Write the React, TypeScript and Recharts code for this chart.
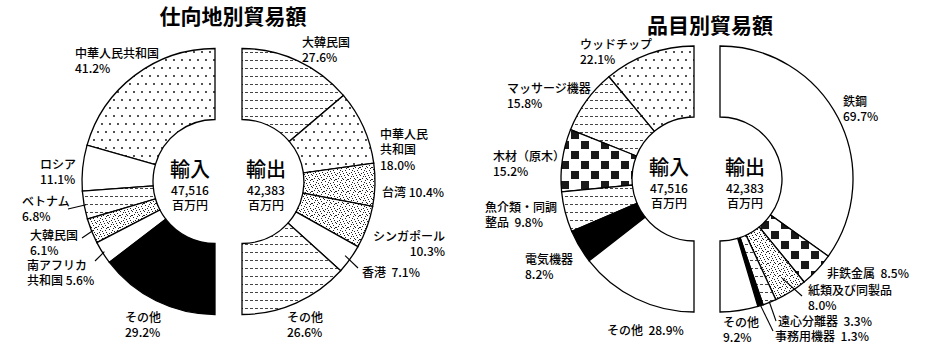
import React from "react";
import { PieChart, Pie, Cell } from "recharts";

// ---- data ----
const destImportNames = ["中華人民共和国", "ロシア", "ベトナム", "大韓民国", "南アフリカ共和国", "その他"];
const destImportValues = [41.2, 11.1, 6.8, 6.1, 5.6, 29.2];
const destExportNames = ["大韓民国", "中華人民共和国", "台湾", "シンガポール", "香港", "その他"];
const destExportValues = [27.6, 18.0, 10.4, 10.3, 7.1, 26.6];
const itemImportNames = ["ウッドチップ", "マッサージ機器", "木材（原木）", "魚介類・同調整品", "電気機器", "その他"];
const itemImportValues = [22.1, 15.8, 15.2, 9.8, 8.2, 28.9];
const itemExportNames = ["鉄鋼", "非鉄金属", "紙類及び同製品", "遠心分離器", "事務用機器", "その他"];
const itemExportValues = [69.7, 8.5, 8.0, 3.3, 1.3, 9.2];
const totals = { import: "47,516", export: "42,383", unit: "百万円" };
const titles = ["仕向地別貿易額", "品目別貿易額"];

const toRows = (names: string[], values: number[]) => names.map((name, i) => ({ name, value: values[i] }));

// ---- styles ----
const destImportFills = ["url(#dots)", "#fff", "url(#dash)", "url(#stipple)", "#fff", "#000"];
const destExportFills = ["url(#dash)", "url(#dots)", "url(#stipple)", "url(#stipple)", "#fff", "url(#dash)"];
const itemImportFills = ["url(#dots)", "url(#dash)", "url(#checker)", "url(#dash)", "#000", "#fff"];
const itemExportFills = ["#fff", "url(#checker)", "url(#stipple)", "url(#dash)", "#000", "#fff"];

type LabelLayout = { x: number; y: number; anchor?: string; lines: string[]; lx?: number; ly?: number; inset?: number };

const destImportLabels: LabelLayout[] = [
  { x: 75, y: 52, lines: ["中華人民共和国", "{v}"] },
  { x: 40, y: 163, lines: ["ロシア", "{v}"] },
  { x: 22, y: 200, lines: ["ベトナム", "{v}"], lx: 68, ly: 209, inset: 2 },
  { x: 30, y: 234, lines: ["大韓民国", "{v}"], lx: 82, ly: 238, inset: 2 },
  { x: 27, y: 264, lines: ["南アフリカ", "共和国 {v}"], lx: 95, ly: 261, inset: 2 },
  { x: 125, y: 316, lines: ["その他", "{v}"] },
];
const destExportLabels: LabelLayout[] = [
  { x: 302, y: 41, lines: ["大韓民国", "{v}"] },
  { x: 380, y: 133, lines: ["中華人民", "共和国", "{v}"] },
  { x: 382, y: 191, lines: ["台湾 {v}"] },
  { x: 445, y: 235, anchor: "end", lines: ["シンガポール", "{v}"] },
  { x: 362, y: 271, lines: ["香港  {v}"], lx: 358, ly: 268, inset: 6 },
  { x: 287, y: 316, lines: ["その他", "{v}"] },
];
const itemImportLabels: LabelLayout[] = [
  { x: 580, y: 43, lines: ["ウッドチップ", "{v}"] },
  { x: 507, y: 87, lines: ["マッサージ機器", "{v}"] },
  { x: 493, y: 155, lines: ["木材（原木）", "{v}"] },
  { x: 485, y: 206, lines: ["魚介類・同調", "整品  {v}"] },
  { x: 525, y: 258, lines: ["電気機器", "{v}"] },
  { x: 607, y: 329, lines: ["その他  {v}"] },
];
const itemExportLabels: LabelLayout[] = [
  { x: 843, y: 100, lines: ["鉄鋼", "{v}"] },
  { x: 827, y: 272, lines: ["非鉄金属  {v}"] },
  { x: 808, y: 289, lines: ["紙類及び同製品", "{v}"], lx: 802, ly: 296, inset: 16 },
  { x: 778, y: 320, lines: ["遠心分離器  {v}"], lx: 776, ly: 321, inset: 1 },
  { x: 775, y: 335, lines: ["事務用機器  {v}"], lx: 773, ly: 331, inset: 1 },
  { x: 723, y: 321, lines: ["その他", "{v}"] },
];

const FONT = "'Noto Sans CJK JP', 'Noto Sans', sans-serif";
const RAD = Math.PI / 180;
const OUTER = 133;
const INNER = 62;
const LINE_H = 15.5;

const makeLabel = (layout: LabelLayout[]) => (props: any) => {
  const L = layout[props.index];
  if (!L) return null;
  const v = Number(props.value).toFixed(1) + "%";
  let line = null;
  if (L.lx !== undefined && L.ly !== undefined) {
    const r = props.outerRadius - (L.inset || 0);
    const ex = props.cx + r * Math.cos(-props.midAngle * RAD);
    const ey = props.cy + r * Math.sin(-props.midAngle * RAD);
    line = <line x1={L.lx} y1={L.ly} x2={ex} y2={ey} stroke="#000" strokeWidth={1.1} />;
  }
  return (
    <g>
      {line}
      {L.lines.map((t, i) => (
        <text
          key={i}
          x={L.x}
          y={L.y + i * LINE_H}
          textAnchor={L.anchor || "start"}
          dominantBaseline="central"
          fontFamily={FONT}
          fontSize={12}
          fontWeight={500}
          fill="#000"
          style={{ whiteSpace: "pre" }}
        >
          {t.replace("{v}", v)}
        </text>
      ))}
    </g>
  );
};

const stipplePts = [
  [1, 1], [5, 0], [9, 2], [3, 4], [7, 5], [11, 6], [0, 7], [5, 8], [9, 9], [2, 10], [7, 11], [11, 11],
  [4, 2], [10, 4], [1, 5], [6, 3], [8, 7], [3, 8], [0, 11], [6, 10], [10, 0], [4, 6],
];

function Defs() {
  return (
    <svg width={0} height={0} style={{ position: "absolute" }}>
      <defs>
        <pattern id="dots" width={8} height={16} patternUnits="userSpaceOnUse">
          <rect width={8} height={16} fill="#fff" />
          <circle cx={2} cy={4} r={0.9} fill="#000" />
          <circle cx={6} cy={12} r={0.9} fill="#000" />
        </pattern>
        <pattern id="dash" width={5} height={8} patternUnits="userSpaceOnUse">
          <rect width={5} height={8} fill="#fff" />
          <rect x={0} y={4} width={3} height={1} fill="#444" />
        </pattern>
        <pattern id="stipple" width={12} height={12} patternUnits="userSpaceOnUse">
          <rect width={12} height={12} fill="#fff" />
          {stipplePts.map(([x, y], i) => (
            <rect key={i} x={x} y={y} width={1} height={1} fill="#222" />
          ))}
        </pattern>
        <pattern id="checker" width={20} height={20} patternUnits="userSpaceOnUse">
          <rect width={20} height={20} fill="#fff" />
          <rect x={1} y={1} width={8} height={8} fill="#1a1a1a" />
          <rect x={11} y={11} width={8} height={8} fill="#1a1a1a" />
        </pattern>
      </defs>
    </svg>
  );
}

type PieSpec = {
  rows: { name: string; value: number }[];
  fills: string[];
  labels: LabelLayout[];
  cx: number;
  cy: number;
  start: number;
  end: number;
};

const pies: PieSpec[] = [
  { rows: toRows(destImportNames, destImportValues), fills: destImportFills, labels: destImportLabels, cx: 215, cy: 181.5, start: 90, end: 270 },
  { rows: toRows(destExportNames, destExportValues), fills: destExportFills, labels: destExportLabels, cx: 242, cy: 181.5, start: 90, end: -90 },
  { rows: toRows(itemImportNames, itemImportValues), fills: itemImportFills, labels: itemImportLabels, cx: 694, cy: 179, start: 90, end: 270 },
  { rows: toRows(itemExportNames, itemExportValues), fills: itemExportFills, labels: itemExportLabels, cx: 720, cy: 179, start: 90, end: -90 },
];

const centerTexts = [
  { x: 190, y: 168, big: "輸入", num: totals.import, dy: 0 },
  { x: 266, y: 168, big: "輸出", num: totals.export, dy: 0 },
  { x: 669, y: 166, big: "輸入", num: totals.import, dy: -2 },
  { x: 745, y: 166, big: "輸出", num: totals.export, dy: -2 },
];

export default function App() {
  return (
    <div style={{ position: "absolute", left: 0, top: 0, width: 927, height: 346, background: "#fff" }}>
      <Defs />
      <PieChart width={927} height={346} margin={{ top: 0, right: 0, bottom: 0, left: 0 }}>
        {pies.map((p, k) => (
          <Pie
            key={k}
            data={p.rows}
            dataKey="value"
            nameKey="name"
            cx={p.cx}
            cy={p.cy}
            startAngle={p.start}
            endAngle={p.end}
            innerRadius={INNER}
            outerRadius={OUTER}
            paddingAngle={0}
            stroke="#000"
            strokeWidth={1.3}
            isAnimationActive={false}
            labelLine={false}
            label={makeLabel(p.labels)}
          >
            {p.rows.map((r, i) => (
              <Cell key={r.name + i} fill={p.fills[i]} stroke="#000" strokeWidth={1.3} />
            ))}
          </Pie>
        ))}
      </PieChart>
      <svg width={927} height={346} style={{ position: "absolute", left: 0, top: 0, pointerEvents: "none" }}>
        <text x={233} y={15} textAnchor="middle" dominantBaseline="central" fontFamily={FONT} fontSize={21} fontWeight="bold">
          {titles[0]}
        </text>
        <text x={710} y={24} textAnchor="middle" dominantBaseline="central" fontFamily={FONT} fontSize={21} fontWeight="bold">
          {titles[1]}
        </text>
        {centerTexts.map((c, i) => (
          <g key={i}>
            <text x={c.x} y={c.y} textAnchor="middle" dominantBaseline="central" fontFamily={FONT} fontSize={20} fontWeight={500}>
              {c.big}
            </text>
            <text x={c.x} y={189 + c.dy} textAnchor="middle" dominantBaseline="central" fontFamily={FONT} fontSize={12} fontWeight={500}>
              {c.num}
            </text>
            <text x={c.x} y={204 + c.dy} textAnchor="middle" dominantBaseline="central" fontFamily={FONT} fontSize={12} fontWeight={500}>
              {totals.unit}
            </text>
          </g>
        ))}
      </svg>
    </div>
  );
}
